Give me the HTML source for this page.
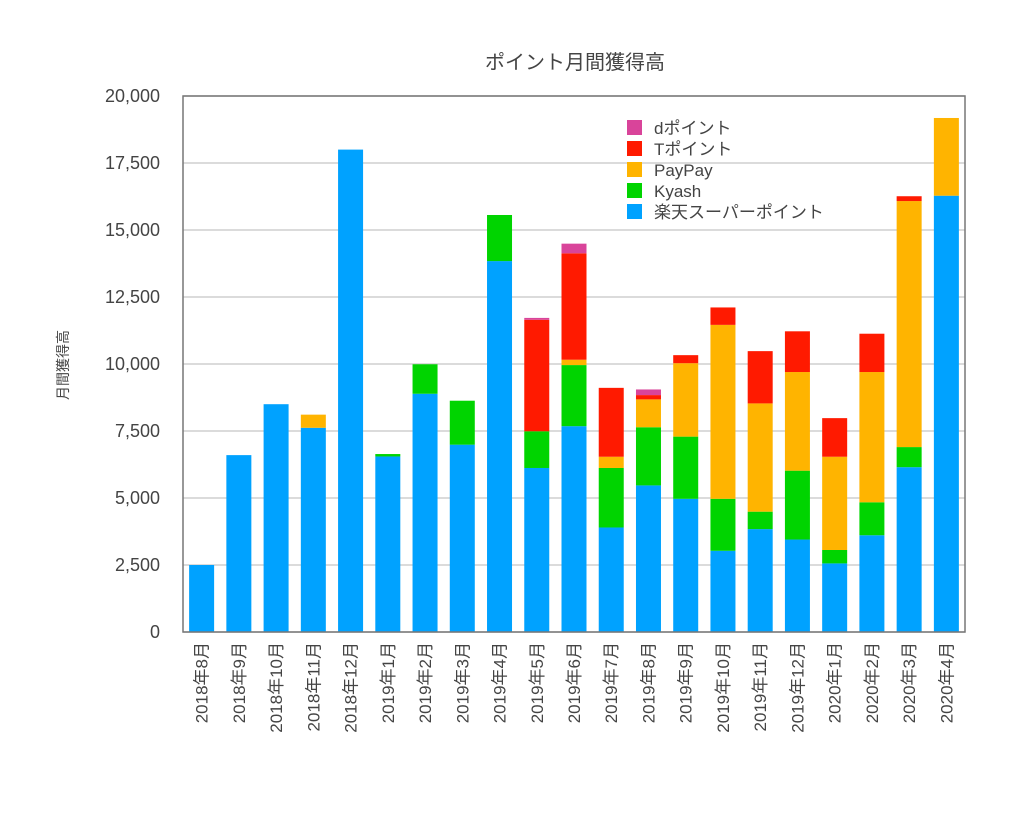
<!DOCTYPE html>
<html><head><meta charset="utf-8"><style>
body{margin:0;background:#fff;}
svg text{font-family:"Liberation Sans","Noto Sans CJK JP",sans-serif;fill:#444;}
</style></head><body>
<svg id="chart" width="1024" height="809" xmlns="http://www.w3.org/2000/svg">
<text x="575" y="69" font-size="20" text-anchor="middle">ポイント月間獲得高</text>
<text transform="translate(68,365) rotate(-90)" font-size="14" text-anchor="middle">月間獲得高</text>
<g id="grid"></g><g id="bars"></g><g id="ticks"></g><g id="xlabels"></g>
<rect x="183" y="96" width="782" height="536" fill="none" stroke="#777" stroke-width="1.5"/>
<g id="legend"></g>
</svg>
<script>
const categories=["2018年8月","2018年9月","2018年10月","2018年11月","2018年12月","2019年1月","2019年2月","2019年3月","2019年4月","2019年5月","2019年6月","2019年7月","2019年8月","2019年9月","2019年10月","2019年11月","2019年12月","2020年1月","2020年2月","2020年3月","2020年4月"];
const rakuten=[2500,6600,8500,7620,18000,6550,8890,6990,13840,6120,7680,3900,5470,4970,3030,3840,3450,2560,3610,6150,16280];
const kyash=[0,0,0,0,0,90,1100,1640,1720,1370,2280,2220,2170,2320,1940,650,2570,500,1230,750,0];
const paypay=[0,0,0,490,0,0,0,0,0,0,200,420,1040,2740,6490,4040,3680,3480,4860,9180,2900];
const tpoint=[0,0,0,0,0,0,0,0,0,4160,3970,2570,160,300,650,1950,1520,1440,1430,180,0];
const dpoint=[0,0,0,0,0,0,0,0,0,70,360,0,210,0,0,0,0,0,0,0,0];
const yTicks=[0,2500,5000,7500,10000,12500,15000,17500,20000];
const seriesNames=["楽天スーパーポイント","Kyash","PayPay","Tポイント","dポイント"];
const seriesData=[rakuten,kyash,paypay,tpoint,dpoint];
const colors=["#00a2ff","#00d400","#ffb400","#ff1a00","#d9449a"];
const NS="http://www.w3.org/2000/svg";
const X0=183,X1=965,Y0=632,Y1=96,YMAX=20000;
const y=v=>Y0-(v/YMAX)*(Y0-Y1);
const step=(X1-X0)/categories.length;
const xc=i=>X0+step*(i+0.5);
const bw=25;
function mk(t,a,p){const e=document.createElementNS(NS,t);for(const k in a)e.setAttribute(k,a[k]);p.appendChild(e);return e;}
const grid=document.getElementById('grid'),ticks=document.getElementById('ticks');
yTicks.forEach(v=>{
 const l=mk('line',{x1:X0,x2:X1,y1:y(v),y2:y(v),stroke:'#cfcfcf','stroke-width':1.5},grid);
 
 
 const t=mk('text',{x:160,y:y(v)+6,'font-size':18,'text-anchor':'end'},ticks);
 
 
 t.textContent=v.toLocaleString('en-US');
});
const bars=document.getElementById('bars'),xl=document.getElementById('xlabels');
categories.forEach((c,i)=>{
 let acc=0;
 seriesData.forEach((s,k)=>{
  const v=s[i]; if(v<=0)return;
  const r=mk('rect',{x:xc(i)-bw/2,y:y(acc+v),width:bw,height:y(acc)-y(acc+v),fill:colors[k]},bars);
  
  
  acc+=v;
 });
 const t=mk('text',{transform:`translate(${xc(i)+6},642) rotate(-90)`,'font-size':17,'text-anchor':'end'},xl);
 
 
 t.textContent=c;
});
const lg=document.getElementById('legend');
for(let k=4;k>=0;k--){
 const row=4-k, yy=120+row*21;
 const r=mk('rect',{x:627,y:yy,width:15,height:15,fill:colors[k]},lg);
 
 
 const t=mk('text',{x:654,y:yy+14,'font-size':17},lg);
 
 
 t.textContent=seriesNames[k];
}
</script>
</body></html>
